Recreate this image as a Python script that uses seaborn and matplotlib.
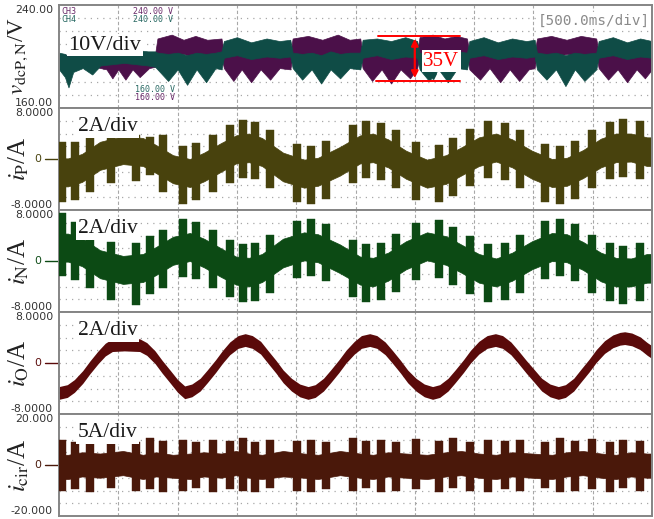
import numpy as np
import pandas as pd
import matplotlib
matplotlib.use("Agg")
import matplotlib.pyplot as plt
import seaborn as sns

sns.set_style("white")
plt.rcParams["mathtext.fontset"] = "stix"
plt.rcParams["font.family"] = ["DejaVu Sans"]

# ---------------- data (time in s, values in V / A) ----------------
# DC-link voltages (lower / upper edge of the rippled trace)
ch3_t = [0.00, 0.10, 0.20, 0.30, 0.40, 0.45, 0.50, 0.56, 0.62, 0.68, 0.76, 0.81,
         0.83, 0.95, 1.05, 1.15, 1.25, 1.37, 1.39, 1.47, 1.54, 1.62, 1.70, 1.78,
         1.86, 1.95, 1.97, 2.10, 2.22, 2.35, 2.45, 2.54, 2.56, 2.64, 2.72, 2.80,
         2.88, 2.96, 3.02, 3.04, 3.15, 3.25, 3.35, 3.44, 3.46, 3.55, 3.63, 3.72,
         3.80, 3.88, 3.96, 4.01, 4.03, 4.15, 4.28, 4.40, 4.53, 4.55, 4.63, 4.71,
         4.79, 4.87, 4.94, 5.00]
ch3_lo = [192, 191, 193, 192, 190, 183, 190, 182, 190, 184, 191, 192,
          201, 200, 202, 199, 201, 200, 191, 181, 190, 180, 190, 182,
          191, 190, 200, 202, 199, 201, 200, 201, 191, 181, 190, 179,
          190, 183, 191, 200, 202, 199, 201, 200, 190, 182, 191, 180,
          190, 181, 190, 191, 201, 199, 202, 200, 201, 191, 182, 190,
          180, 190, 183, 190]
ch3_hi = [202, 201, 203, 202, 200, 199, 201, 200, 201, 200, 202, 202,
          214, 217, 213, 216, 213, 214, 203, 202, 203, 201, 203, 202,
          204, 203, 214, 216, 213, 217, 213, 214, 203, 202, 203, 201,
          203, 202, 203, 215, 217, 214, 216, 214, 203, 202, 203, 201,
          204, 202, 203, 203, 214, 216, 213, 216, 214, 203, 202, 203,
          201, 203, 202, 203]

ch4_t = [0.00, 0.05, 0.08, 0.12, 0.20, 0.28, 0.35, 0.45, 0.55, 0.65, 0.75, 0.81,
         0.83, 0.92, 1.00, 1.08, 1.16, 1.24, 1.32, 1.37, 1.39, 1.50, 1.62, 1.75,
         1.86, 1.95, 1.97, 2.05, 2.13, 2.21, 2.29, 2.37, 2.45, 2.54, 2.56, 2.68,
         2.80, 2.92, 3.02, 3.04, 3.12, 3.20, 3.28, 3.36, 3.44, 3.46, 3.58, 3.70,
         3.82, 3.94, 4.01, 4.03, 4.11, 4.19, 4.27, 4.35, 4.43, 4.53, 4.55, 4.67,
         4.79, 4.90, 5.00]
ch4_lo = [190, 184, 176, 188, 191, 186, 193, 194, 195, 194, 193, 192,
          190, 181, 190, 178, 190, 180, 191, 190, 199, 201, 198, 200,
          199, 200, 191, 182, 190, 179, 190, 183, 191, 190, 199, 201,
          198, 200, 199, 190, 181, 190, 180, 191, 190, 199, 201, 198,
          200, 199, 200, 190, 182, 190, 177, 190, 181, 190, 199, 201,
          198, 200, 199]
ch4_hi = [203, 202, 200, 202, 203, 202, 204, 205, 206, 205, 204, 204,
          203, 202, 203, 201, 203, 202, 203, 204, 212, 215, 211, 214,
          212, 213, 203, 202, 203, 201, 204, 202, 203, 203, 213, 214,
          212, 215, 212, 203, 202, 203, 201, 204, 203, 212, 215, 211,
          214, 212, 213, 203, 202, 203, 201, 203, 202, 203, 212, 215,
          211, 214, 212]

# output current (centre of the noisy trace)
io_t = [0.00, 0.07, 0.13, 0.20, 0.26, 0.33, 0.39, 0.45, 0.55, 0.68, 0.74, 0.81,
        0.87, 0.94, 1.00, 1.06, 1.12, 1.19, 1.25, 1.32, 1.38, 1.44, 1.51, 1.57,
        1.63, 1.70, 1.76, 1.83, 1.89, 1.96, 2.03, 2.10, 2.16, 2.23, 2.29, 2.36,
        2.42, 2.49, 2.55, 2.62, 2.68, 2.75, 2.81, 2.88, 2.94, 3.01, 3.08, 3.15,
        3.21, 3.28, 3.34, 3.41, 3.47, 3.54, 3.61, 3.68, 3.74, 3.81, 3.87, 3.94,
        4.01, 4.07, 4.14, 4.21, 4.27, 4.34, 4.40, 4.47, 4.53, 4.60, 4.67, 4.73,
        4.77, 4.83, 4.90, 4.96, 5.00]
io_v = [-4.7, -4.4, -3.6, -2.2, -0.7, 0.9, 2.1, 2.8, 2.9, 2.8, 2.2, 0.9,
        -0.6, -2.2, -3.6, -4.6, -4.3, -3.4, -2.1, -0.5, 1.0, 2.3, 3.3, 3.6,
        3.3, 2.4, 1.0, -0.6, -2.1, -3.4, -4.3, -4.7, -4.4, -3.4, -2.1, -0.5,
        1.0, 2.4, 3.3, 3.6, 3.3, 2.3, 1.0, -0.6, -2.1, -3.4, -4.3, -4.7,
        -4.4, -3.4, -2.1, -0.5, 1.0, 2.4, 3.3, 3.6, 3.3, 2.3, 1.0, -0.6,
        -2.1, -3.4, -4.3, -4.7, -4.4, -3.4, -2.0, -0.4, 1.1, 2.5, 3.4, 3.8,
        3.9, 3.7, 3.1, 2.2, 1.7]

# arm / circulating currents: slow band between switching bursts ...
band_t = [0.000, 0.076, 0.194, 0.346, 0.540, 0.708, 0.818, 0.961, 1.105, 1.223,
          1.366, 1.492, 1.602, 1.712, 1.889, 2.066, 2.184, 2.369, 2.538, 2.648,
          2.774, 2.926, 3.103, 3.263, 3.390, 3.541, 3.685, 3.820, 3.988, 4.157,
          4.283, 4.418, 4.570, 4.696, 4.823, 4.958, 5.000]
ip_band_lo = [-4.3, -4.3, -3.6, -1.7, -0.8, -1.1, -2.2, -3.8, -4.4, -3.5,
              -2.0, -0.7, -0.5, -1.1, -3.5, -4.5, -4.2, -2.6, -0.7, -0.5,
              -1.3, -3.1, -4.5, -3.9, -2.6, -1.1, -0.4, -1.3, -3.1, -4.4,
              -4.2, -3.0, -1.3, -0.5, -0.4, -1.1, -1.1]
ip_band_hi = [0.1, 0.1, 0.8, 2.7, 3.6, 3.3, 2.2, 0.6, 0.0, 1.0,
              2.5, 3.7, 4.0, 3.3, 1.0, -0.1, 0.2, 1.9, 3.7, 4.0,
              3.1, 1.3, -0.1, 0.6, 1.8, 3.4, 4.0, 3.1, 1.3, 0.0,
              0.2, 1.4, 3.2, 4.0, 4.0, 3.4, 3.4]
in_band_lo = [-0.1, -0.1, -0.8, -2.7, -3.6, -3.3, -2.2, -0.6, 0.0, -1.0,
              -2.5, -3.7, -4.0, -3.3, -1.0, 0.1, -0.2, -1.9, -3.7, -4.0,
              -3.1, -1.3, 0.1, -0.6, -1.8, -3.4, -4.0, -3.1, -1.3, 0.0,
              -0.2, -1.4, -3.2, -4.0, -4.0, -3.4, -3.4]
in_band_hi = [4.3, 4.3, 3.6, 1.7, 0.8, 1.1, 2.2, 3.8, 4.4, 3.5,
              2.0, 0.7, 0.5, 1.1, 3.5, 4.5, 4.2, 2.6, 0.7, 0.5,
              1.3, 3.1, 4.5, 3.9, 2.6, 1.1, 0.4, 1.3, 3.1, 4.4,
              4.2, 3.0, 1.3, 0.5, 0.4, 1.1, 1.1]
cir_band_lo = [-5.5, -5.5, -4.5, -5.0, -4.0, -5.5, -4.5, -5.0, -5.5, -4.5,
               -5.0, -4.0, -5.0, -5.5, -4.5, -5.0, -5.5, -4.0, -5.0, -5.5,
               -4.5, -5.0, -5.5, -4.5, -4.0, -5.0, -5.5, -4.5, -5.0, -5.5,
               -4.5, -4.0, -5.0, -5.5, -4.5, -5.0, -5.0]
cir_band_hi = [4.0, 4.0, 5.0, 4.5, 5.5, 4.0, 5.0, 4.0, 4.5, 5.0,
               4.5, 5.5, 4.5, 4.0, 5.5, 4.5, 4.0, 5.5, 4.5, 4.0,
               5.0, 4.5, 4.0, 5.0, 5.5, 4.5, 4.0, 5.0, 4.5, 4.0,
               5.0, 5.5, 4.5, 4.0, 5.0, 4.5, 4.5]

# ... and the switching pulses (centre time, lower / upper end)
pulse_t = [0.025, 0.135, 0.261, 0.438, 0.649, 0.767, 0.877, 1.046, 1.155, 1.298,
           1.442, 1.551, 1.653, 1.779, 2.007, 2.125, 2.251, 2.479, 2.589, 2.715,
           2.841, 3.010, 3.204, 3.322, 3.465, 3.617, 3.761, 3.887, 4.098, 4.224,
           4.351, 4.494, 4.646, 4.756, 4.899]
ip_pulse_lo = [-6.7, -6.4, -5.1, -3.8, -3.5, -2.5, -5.2, -7.0, -6.5, -5.2,
               -3.7, -3.0, -3.2, -4.5, -6.7, -7.0, -6.2, -3.7, -3.0, -3.3,
               -4.6, -6.4, -6.8, -5.8, -4.3, -3.0, -3.3, -4.5, -6.7, -7.0,
               -6.2, -4.5, -3.2, -2.8, -3.2]
ip_pulse_hi = [2.7, 2.6, 3.5, 3.6, 3.8, 3.5, 3.8, 2.1, 2.5, 3.8,
               5.3, 6.1, 5.8, 4.6, 2.3, 2.0, 2.8, 5.3, 6.0, 5.7,
               4.5, 2.6, 2.2, 3.3, 4.7, 6.0, 5.7, 4.6, 2.4, 2.0,
               2.8, 4.6, 5.8, 6.3, 5.9]
in_pulse_lo = [-2.4, -3.0, -4.3, -6.1, -6.9, -5.2, -4.2, -2.5, -2.9, -4.2,
               -5.7, -6.5, -6.2, -5.0, -2.7, -2.4, -3.2, -5.7, -6.4, -6.1,
               -4.9, -3.0, -2.6, -3.7, -5.1, -6.4, -6.1, -5.0, -2.8, -2.4,
               -3.2, -5.0, -6.2, -6.7, -6.3]
in_pulse_hi = [7.6, 6.1, 4.7, 3.0, 2.9, 3.9, 4.8, 6.6, 6.1, 4.8,
               3.3, 2.6, 2.8, 4.1, 6.3, 6.6, 5.8, 3.3, 2.6, 2.9,
               4.2, 6.0, 6.4, 5.4, 3.9, 2.7, 2.9, 4.1, 6.3, 6.6,
               5.8, 4.1, 2.8, 2.4, 2.8]
cir_pulse_lo = [-10.0, -9.5, -10.5, -9.0, -10.0, -9.5, -10.5, -10.0, -9.0, -10.5,
                -9.5, -10.0, -10.5, -9.0, -10.0, -10.5, -9.5, -10.0, -9.0, -10.5,
                -10.0, -9.5, -10.5, -9.0, -10.0, -10.5, -9.5, -10.0, -9.0, -10.5,
                -10.0, -9.5, -10.5, -9.0, -10.0]
cir_pulse_hi = [10.0, 9.0, 9.5, 10.0, 9.0, 10.5, 9.5, 10.0, 9.0, 10.0,
                9.5, 10.5, 9.0, 10.0, 9.5, 10.0, 9.0, 10.5, 9.5, 10.0,
                9.0, 10.0, 9.5, 10.5, 9.0, 10.0, 9.5, 10.0, 9.0, 10.5,
                9.5, 10.0, 9.0, 10.0, 9.5]

# ---------------- figure layout ----------------
W, H = 654, 519
fig = plt.figure(figsize=(W / 100, H / 100), dpi=100)
fig.patch.set_facecolor("white")

panel_px = [(5, 108), (108, 210), (210, 312), (312, 414), (414, 516)]
left_px, right_px = 59, 652
ylims = [(160, 240), (-8, 8), (-8, 8), (-8, 8), (-20, 20)]
top_lbl = ["240.00", "8.0000", "8.0000", "8.0000", "20.000"]
bot_lbl = ["160.00", "-8.0000", "-8.0000", "-8.0000", "-20.000"]
ylabels = [r"$v_{\mathrm{dcP,N}}$/V", r"$i_{\mathrm{P}}$/A", r"$i_{\mathrm{N}}$/A",
           r"$i_{\mathrm{O}}$/A", r"$i_{\mathrm{cir}}$/A"]
ylabel_fs = [16.5, 18, 18, 18, 18]
divtext = ["10V/div", "2A/div", "2A/div", "2A/div", "5A/div"]

c_ch3 = "#4b1049"
c_ch4 = "#0f4c46"
c_ip = "#48420d"
c_in = "#0c4a14"
c_io = "#5a0a0a"
c_cir = "#4a180a"
zero_col = [None, c_ip, c_in, c_io, c_cir]

axes = []
for i, (tp, bp) in enumerate(panel_px):
    ax = fig.add_axes([left_px / W, 1 - bp / H, (right_px - left_px) / W, (bp - tp) / H])
    lo, hi = ylims[i]
    ax.set_xlim(0, 5)
    ax.set_ylim(lo, hi)
    ax.set_xticks([])
    ax.set_yticks([])
    step = (hi - lo) / 8
    for k in range(1, 8):
        ax.axhline(lo + k * step, color="#a8a8a8", lw=0.9, ls=(0, (1, 4)), zorder=0)
    for k in range(1, 10):
        ax.axvline(0.5 * k, color="#a8a8a8", lw=0.8, ls=(0, (3, 2)), zorder=0)
    for s in ax.spines.values():
        s.set_color("#858585")
        s.set_linewidth(1.4)
    ax.text(-0.01, 1.0, top_lbl[i], transform=ax.transAxes, ha="right", va="top",
            fontsize=7.8, color="#333333")
    ax.text(-0.01, 0.0, bot_lbl[i], transform=ax.transAxes, ha="right", va="bottom",
            fontsize=7.8, color="#333333")
    if zero_col[i] is not None:
        ax.text(-0.03, 0.5, "0", transform=ax.transAxes, ha="right", va="center",
                fontsize=7.8, color=zero_col[i])
        ax.plot([-0.024, 0.0], [0.5, 0.5], transform=ax.transAxes, color=zero_col[i],
                lw=1.0, clip_on=False)
    ax.text(-0.068, 0.5, ylabels[i], transform=ax.transAxes, rotation=90,
            ha="center", va="center", fontsize=ylabel_fs[i], color="#222222",
            family="Liberation Serif")
    axes.append(ax)


def band(ax, t, lo, hi, color):
    ax.fill_between(t, lo, hi, color=color, lw=0.5, edgecolor=color, zorder=2)


def pulses(ax, t, lo, hi, color):
    ax.bar(t, np.subtract(hi, lo), bottom=lo, width=0.065, color=color,
           edgecolor=color, lw=0.3, zorder=3)


# panel 1: DC-link voltages
band(axes[0], ch3_t, ch3_lo, ch3_hi, c_ch3)
band(axes[0], ch4_t, ch4_lo, ch4_hi, c_ch4)

# panels 2, 3, 5: arm and circulating currents
band(axes[1], band_t, ip_band_lo, ip_band_hi, c_ip)
pulses(axes[1], pulse_t, ip_pulse_lo, ip_pulse_hi, c_ip)
band(axes[2], band_t, in_band_lo, in_band_hi, c_in)
pulses(axes[2], pulse_t, in_pulse_lo, in_pulse_hi, c_in)
band(axes[4], band_t, cir_band_lo, cir_band_hi, c_cir)
pulses(axes[4], pulse_t, cir_pulse_lo, cir_pulse_hi, c_cir)

# panel 4: output current with its switching ripple
io = pd.DataFrame({"t": io_t, "i": io_v})
ripple = 1.0
axes[3].fill_between(io["t"], io["i"] - ripple, io["i"] + ripple, color=c_io,
                     lw=0, zorder=2)
sns.lineplot(data=io, x="t", y="i", ax=axes[3], color=c_io, lw=1.5, legend=False,
             zorder=2)
for ax in axes:
    ax.set_xlabel("")
    ax.set_ylabel("")

# per-division annotations
div_pos = [(0.016, 0.61), (0.032, 0.82), (0.032, 0.82), (0.032, 0.82), (0.032, 0.82)]
div_fs = [16, 15.5, 15.5, 15.5, 15.5]
for i, ax in enumerate(axes):
    ax.text(div_pos[i][0], div_pos[i][1], divtext[i], transform=ax.transAxes,
            fontsize=div_fs[i], family="Liberation Serif", color="#1a1a1a",
            ha="left", va="center", zorder=5,
            bbox=dict(facecolor="white", edgecolor="none", pad=1.2))

# channel readouts
ax = axes[0]
mono = "DejaVu Sans Mono"
purple_txt, teal_txt = "#6a2a6a", "#2a6a64"
ax.text(0.004, 0.985, "CH3", transform=ax.transAxes, fontsize=6, color=purple_txt,
        va="top", family=mono)
ax.text(0.004, 0.90, "CH4", transform=ax.transAxes, fontsize=6, color=teal_txt,
        va="top", family=mono)
ax.text(0.125, 0.985, "240.00 V", transform=ax.transAxes, fontsize=6, color=purple_txt,
        va="top", family=mono)
ax.text(0.125, 0.90, "240.00 V", transform=ax.transAxes, fontsize=6, color=teal_txt,
        va="top", family=mono)
ax.text(0.128, 0.14, "160.00 V", transform=ax.transAxes, fontsize=6, color=teal_txt,
        va="bottom", family=mono)
ax.text(0.128, 0.055, "160.00 V", transform=ax.transAxes, fontsize=6, color=purple_txt,
        va="bottom", family=mono)
ax.text(0.997, 0.85, "[500.0ms/div]", transform=ax.transAxes, fontsize=10.3,
        color="#8a8a8a", ha="right", va="center", family=mono,
        bbox=dict(facecolor="white", edgecolor="none", pad=0.8), zorder=5)

# 35 V ripple marker
v_hi, v_lo = 216.0, 181.0
ax.plot([2.69, 3.38], [v_hi, v_hi], color="red", lw=1.4, zorder=6)
ax.plot([2.67, 3.38], [v_lo, v_lo], color="red", lw=1.4, zorder=6)
ax.annotate("", xy=(3.0, v_hi), xytext=(3.0, v_lo),
            arrowprops=dict(arrowstyle="<|-|>", color="red", lw=1.6,
                            mutation_scale=10), zorder=6)
ax.text(3.07, 196.5, "35V", color="red", fontsize=15, family="Liberation Serif",
        ha="left", va="center", zorder=6,
        bbox=dict(facecolor="white", edgecolor="none", pad=1.0))
ax.plot([3.15, 3.27], [184.5, 184.5], ls="none", marker="v", ms=4, color=c_ch4,
        zorder=7)

fig.savefig("out.png", dpi=100, facecolor="white")
